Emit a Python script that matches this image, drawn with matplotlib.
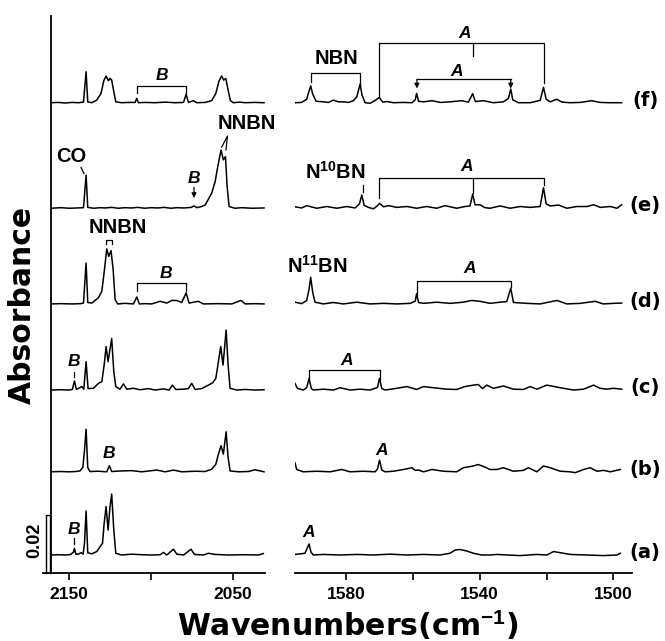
import numpy as np
import matplotlib.pyplot as plt

plt.rcParams['font.family'] = ['Liberation Sans', 'DejaVu Sans']
plt.rcParams['font.weight'] = 'bold'
plt.rcParams['mathtext.fontset'] = 'custom'
plt.rcParams['mathtext.bf'] = 'Liberation Sans:bold'
plt.rcParams['mathtext.rm'] = 'Liberation Sans:bold'

# spectra: wavenumber (cm-1) and absorbance above baseline (mAbs)
# --- 2160-2030 region ---
lo_a_x = [2161, 2157, 2152, 2149, 2147.3, 2146.7, 2145.9, 2144.3, 2142.6, 2141.4, 2140.6, 2139.6, 2138.6, 2136.1,
          2133.1, 2131.1, 2129.6, 2128.6, 2127.4, 2126.2, 2125.0, 2124.0, 2122.7, 2121.5, 2117.9, 2111.8, 2105.7,
          2099.6, 2094.5, 2092.4, 2090.4, 2086.3, 2084.3, 2080.2, 2075.6, 2073.5, 2068.1, 2065.0, 2061.0, 2052.8,
          2042.6, 2034.5, 2031.5]
lo_a_y = [0, 0.1, 0, 0.2, 1.0, 2.3, 0.3, 0.3, 0.8, 0.3, 4.0, 15.2, 0.8, 0.4, 1.2, 2.9, 4.0, 10.9, 16.7, 8.6, 16.7,
          21.0, 8.6, 0.6, 0, 0.3, 0.1, 0, 0.1, 0.9, 0, 2.0, 0.3, 0, 2.0, 0.2, 0, 0.6, 0.2, 0, 0.1, 0, 0.5]

lo_b_x = [2161, 2155, 2150, 2146, 2143.3, 2141.6, 2140.6, 2139.6, 2138.6, 2137.2, 2132.1, 2127.0, 2125.4, 2124.0,
          2117.9, 2111.8, 2105.7, 2096.5, 2091.4, 2086.3, 2081.3, 2073.1, 2067.0, 2063.0, 2060.5, 2058.9, 2057.3,
          2055.9, 2054.2, 2053.0, 2051.8, 2046.7, 2040.6, 2036.6, 2031.1]
lo_b_y = [0, 0.1, 0, 0.1, 0.3, 1.5, 7.2, 14.7, 1.5, 0.1, 0.2, 0, 2.1, 0.1, 0.3, 0.4, 0, 0.6, 0, 0.6, 0, 0.2, 0.1,
          0.9, 2.6, 6.1, 9.0, 6.1, 13.8, 4.9, 0.3, 0, 0.1, 0.7, 0]

lo_c_x = [2161, 2155, 2150, 2148, 2146.7, 2145.5, 2142.2, 2141.0, 2139.6, 2138.4, 2135.1, 2132.1, 2130.0, 2128.6,
          2127.4, 2126.2, 2124.0, 2122.7, 2121.5, 2118.9, 2116.8, 2114.8, 2110.7, 2106.7, 2101.6, 2097.5, 2092.4,
          2089.0, 2087.0, 2084.9, 2080.2, 2077.2, 2075.2, 2073.1, 2069.1, 2065.0, 2062.4, 2060.5, 2058.9, 2057.5,
          2056.1, 2054.2, 2053.0, 2051.8, 2047.7, 2042.6, 2036.6, 2031.1]
lo_c_y = [0, 0.1, 0, 0.2, 3.1, 0.2, 1.2, 0.3, 9.8, 0.5, 0.6, 2.3, 2.9, 8.6, 15.0, 9.8, 17.8, 6.3, 1.2, 0.3, 2.1,
          0.3, 0.6, 0.1, 0.5, 0, 0.4, 0, 1.7, 0.2, 0.3, 0.5, 2.3, 0.2, 0.5, 1.7, 2.5, 4.0, 9.8, 15.0, 8.6, 20.7,
          8.6, 0.6, 0, 0.2, 0, 0.1]

lo_d_x = [2161, 2155, 2148, 2143, 2141.2, 2139.6, 2138.6, 2136.1, 2132.1, 2130.0, 2128.4, 2127.0, 2125.8, 2124.4,
          2123.1, 2121.9, 2120.3, 2115.8, 2110.7, 2108.7, 2107.1, 2103.6, 2099.6, 2094.5, 2090.4, 2087.4, 2084.3,
          2081.3, 2078.6, 2076.8, 2071.1, 2068.1, 2058.9, 2050.8, 2045.1, 2042.6, 2036.6, 2031.1]
lo_d_y = [0, 0.1, 0, 0.1, 0.3, 14.1, 0.5, 0.3, 2.1, 4.4, 11.8, 19.0, 16.4, 18.4, 11.8, 1.5, 0, 0.2, 0, 2.4, 0,
          0.1, 0, 0.9, 0.3, 1.2, 1.2, 0.5, 3.8, 0.3, 0.9, 0, 0.1, 0, 1.2, 0, 0.1, 0]

lo_e_x = [2161, 2155, 2150, 2145, 2141.2, 2139.6, 2138.6, 2135, 2131, 2128, 2124, 2120, 2116, 2112, 2108, 2104, 2100,
          2096, 2092, 2088, 2084, 2080, 2075.5, 2073.7, 2072, 2069.1, 2067.0, 2063.0, 2060.9, 2059.3, 2057.3, 2055.9,
          2054.6, 2053.6, 2052.4, 2048.7, 2044.7, 2038.6, 2031.1]
lo_e_y = [0, 0.2, 0, 0.1, 0.2, 11.4, 0.3, 0, 0.2, 0.1, 0.3, 0, 0.2, 0.1, 0.3, 0, 0.2, 0.1, 0.3, 0, 0.2, 0.1, 0.3,
          0.8, 0.2, 0.6, 1.1, 5.2, 9.2, 14.4, 20.1, 16.7, 17.8, 7.5, 0.6, 0, 0.2, 0, 0.1]

lo_f_x = [2161, 2156.5, 2152.4, 2148.3, 2144.3, 2141.2, 2139.6, 2138.6, 2136.1, 2133.1, 2130.5, 2128.8, 2127.4,
          2126.0, 2125.0, 2124.0, 2122.7, 2121.5, 2117.9, 2113.8, 2109.7, 2108.7, 2107.7, 2103.6, 2097.5, 2091.4,
          2085.3, 2080.2, 2078.6, 2077.2, 2074.2, 2072.1, 2067.0, 2063.0, 2060.5, 2058.5, 2056.9, 2055.7, 2054.4,
          2053.2, 2051.6, 2049.8, 2045.7, 2042.6, 2036.6, 2031.1]
lo_f_y = [0, 0.1, -0.1, 0.1, 0, 0.2, 10.7, 0.3, 0, 0.9, 3.2, 7.6, 9.2, 7.6, 8.4, 7.8, 3.8, 0.3, 0, 0.1, 0.1, 1.5,
          0, 0.1, 0, 0.2, 0, 0.1, 2.9, 0.1, 0.7, 0, 0.1, 0.7, 3.2, 7.6, 9.2, 7.8, 8.4, 4.9, 0.7, 0, 0.2, 0, 0.1, 0]

# --- 1595-1495 region ---
hi_a_x = [1595.3, 1592.3, 1591.6, 1591.1, 1590.5, 1589.8, 1586.8, 1581.8, 1576.8, 1571.8, 1566.8, 1561.8, 1556.8,
          1551.9, 1548.9, 1547.4, 1545.9, 1543.9, 1541.9, 1539.4, 1536.9, 1534.9, 1527.9, 1522.9, 1519.9, 1517.9,
          1515.9, 1512.9, 1507.9, 1502.9, 1498.9, 1497.9]
hi_a_y = [0.2, 0.6, 2.5, 3.8, 1.0, 0, 0.2, 0, 0.2, 0, 0.3, 0, 0.2, 0, 0.6, 1.7, 1.9, 1.4, 0.6, 0, 0, 0.2, -0.2,
          0.2, 0, 1.2, 0.8, 0.2, 0, -0.2, 0, 0.6]

hi_b_x = [1595.3, 1594.8, 1592.8, 1588.8, 1584.8, 1581.3, 1578.8, 1574.8, 1571.3, 1570.6, 1570.0, 1569.3, 1568.3,
          1565.8, 1562.8, 1560.3, 1559.3, 1558.3, 1556.8, 1554.3, 1550.9, 1546.9, 1544.9, 1542.4, 1540.4, 1538.4,
          1536.9, 1534.9, 1532.9, 1529.9, 1526.9, 1525.4, 1522.9, 1520.9, 1518.9, 1515.9, 1512.9, 1511.4, 1508.9,
          1506.9, 1504.9, 1502.9, 1500.9, 1497.9]
hi_b_y = [3.1, 0.8, 0, 0.2, 0, 0.8, 0, 0.2, 0, 1.0, 4.0, 0.6, 0, 0.2, 0.8, 1.4, 0.5, 0.6, 0, 0.8, 0.2, 0, 1.4, 1.9,
          2.5, 1.6, 0.8, 0.8, 1.4, 0.2, 0.5, 1.4, 0, 2.0, 1.4, 0.2, 0, -0.3, 0.8, 1.4, 0.2, 0.5, 0, 0.8]

hi_c_x = [1595.3, 1594.6, 1592.8, 1591.8, 1591.1, 1590.4, 1589.8, 1586.8, 1583.8, 1581.8, 1578.8, 1575.8, 1572.8,
          1570.6, 1570.0, 1569.3, 1568.3, 1564.8, 1561.8, 1558.9, 1556.8, 1553.9, 1549.9, 1546.9, 1544.4, 1541.9,
          1540.4, 1539.2, 1537.9, 1535.9, 1532.9, 1529.9, 1526.9, 1524.9, 1522.9, 1519.9, 1515.9, 1511.9, 1508.9,
          1505.9, 1504.0, 1502.0, 1500.0, 1497.5]
hi_c_y = [2.3, 0.6, 0, 0.8, 4.0, 0.5, 0, 0.3, 0, 0.8, 0, 0.3, 0, 0.9, 4.0, 0.5, 0, 0.6, 1.2, 0.2, 1.2, 0.8, 0.3,
          0.2, 1.2, 1.7, 1.9, 0.5, 1.7, 0.6, 1.4, 0.3, 0.2, 1.2, 0.3, 1.7, 0.8, 0, 0.3, 1.7, 0.6, 0.3, 0.6, 0.3]

hi_d_x = [1595.3, 1593.3, 1591.8, 1591.1, 1590.6, 1590.0, 1589.3, 1586.8, 1583.8, 1580.8, 1576.8, 1572.8, 1568.8,
          1564.8, 1560.8, 1559.3, 1558.9, 1558.3, 1556.8, 1552.9, 1548.9, 1544.9, 1542.4, 1539.9, 1536.9, 1533.9,
          1531.9, 1530.7, 1529.9, 1525.9, 1521.9, 1516.9, 1513.9, 1509.9, 1505.4, 1503.0, 1500.0, 1497.5]
hi_d_y = [0.6, 0.1, 1.2, 5.0, 9.2, 4.0, 0.6, 0, 0.5, 0, 0.6, 0, 0.2, 0, 0.2, 1.0, 3.5, 0.5, 0.2, 0.6, 0.2, 0.6,
          1.2, 0.9, 0.2, 0.6, 0.8, 5.4, 0.5, 0.2, 0, 1.2, 0, 0.2, 0.9, 0, 0.2, 0.3]

hi_e_x = [1595.3, 1593.3, 1591.8, 1588.8, 1585.8, 1582.8, 1579.8, 1577.3, 1576.0, 1575.3, 1574.6, 1573.3, 1571.8,
          1570.6, 1570.0, 1568.8, 1567.3, 1564.8, 1561.8, 1558.9, 1555.9, 1552.9, 1550.4, 1546.9, 1544.4, 1542.9,
          1542.1, 1541.4, 1539.9, 1538.4, 1536.9, 1533.9, 1530.9, 1527.9, 1524.9, 1521.9, 1520.9, 1520.1, 1518.9,
          1516.4, 1513.9, 1510.9, 1507.9, 1505.9, 1503.9, 1500.9, 1498.9, 1497.5]
hi_e_y = [0.5, 0.1, 0.9, 0, 0.6, 0, 0.6, 0.1, 1.5, 4.6, 1.0, 0.3, -0.2, 0.9, 1.7, 0.5, 0.9, 0.3, 0.6, 0, 0.6, 0,
          0.9, 0, 0.6, 0.8, 4.9, 1.2, 1.2, 0.2, 0, 0.8, 0, 0.6, 0.3, 0.6, 7.1, 1.5, 0.8, 1.1, 0, 0.6, 0.6, 1.2, 0.3,
          0.6, 0, 1.2]

hi_f_x = [1595.3, 1593.3, 1591.8, 1591.1, 1590.6, 1590.0, 1589.0, 1586.8, 1585.3, 1583.8, 1582.3, 1580.8, 1579.3,
          1577.8, 1576.8, 1575.8, 1575.2, 1574.3, 1572.8, 1571.3, 1570.1, 1569.0, 1567.8, 1565.8, 1562.8, 1560.3,
          1559.3, 1558.9, 1558.3, 1556.8, 1554.3, 1551.8, 1548.9, 1545.4, 1543.4, 1542.1, 1541.3, 1538.9, 1535.9,
          1532.9, 1531.4, 1530.7, 1530.1, 1528.4, 1524.9, 1521.9, 1520.9, 1520.1, 1518.9, 1516.9, 1515.4, 1512.9,
          1509.9, 1506.5, 1504.0, 1501.0, 1497.5]
hi_f_y = [0, 0.1, 1.2, 4.0, 5.8, 3.0, 0.5, 0.3, 0.1, 0.9, 0.3, 0.3, 0.1, 0.7, 2.0, 6.4, 2.5, 0, -0.2, 0.8, 1.8,
          0.2, 0.4, 0, 0.1, 0, 1.0, 3.2, 0.5, 0.3, 0.7, 0.1, 0.3, 0.7, 0.2, 3.1, 0.4, 0.7, 0, 0.3, 1.5, 4.7, 1.0,
          0, 0, 0.8, 5.3, 1.2, 0.3, 1.2, 0.2, 0, 0.1, 0.7, 0.1, 0, 0]

trace_labels = ['(a)', '(b)', '(c)', '(d)', '(e)', '(f)']
offsets = [0.0062, 0.0349, 0.0631, 0.0928, 0.1258, 0.1622]   # absorbance baseline of each trace
lo_x = [lo_a_x, lo_b_x, lo_c_x, lo_d_x, lo_e_x, lo_f_x]
lo_y = [lo_a_y, lo_b_y, lo_c_y, lo_d_y, lo_e_y, lo_f_y]
hi_x = [hi_a_x, hi_b_x, hi_c_x, hi_d_x, hi_e_x, hi_f_x]
hi_y = [hi_a_y, hi_b_y, hi_c_y, hi_d_y, hi_e_y, hi_f_y]

fig = plt.figure(figsize=(6.65, 6.41), dpi=100)
ax1 = fig.add_axes([0.0767, 0.1061, 0.3218, 0.8689])
ax2 = fig.add_axes([0.4436, 0.1061, 0.5068, 0.8689])

for i in range(6):
    ax1.plot(lo_x[i], offsets[i] + np.array(lo_y[i]) / 1000, color='k', lw=1.1)
    ax2.plot(hi_x[i], offsets[i] + np.array(hi_y[i]) / 1000, color='k', lw=1.1)
    ax2.text(1490.5, offsets[i] + 0.0008, trace_labels[i], ha='center', va='center', fontsize=14,
             family='DejaVu Sans', fontweight='bold', clip_on=False)

ax1.set_xlim(2161, 2030.5)
ax2.set_xlim(1595.3, 1494.4)
for ax in (ax1, ax2):
    ax.set_ylim(0, 0.1921)
    ax.set_yticks([])
    ax.spines['top'].set_visible(False)
    ax.spines['right'].set_visible(False)
    ax.spines['bottom'].set_linewidth(1.3)
    ax.tick_params(axis='x', direction='out', length=5, width=1.2, labelsize=12.5, pad=5)
ax2.spines['left'].set_visible(False)
ax1.spines['left'].set_linewidth(1.3)

ax1.set_xticks([2150, 2100, 2050])
ax1.set_xticklabels(['2150', '', '2050'])
ax2.set_xticks([1580, 1560, 1540, 1520, 1500])
ax2.set_xticklabels(['1580', '', '1540', '', '1500'])
for lab in ax1.get_xticklabels() + ax2.get_xticklabels():
    lab.set_fontweight('bold')

# scale bar 0.02
ax1.plot([2165.9, 2161], [0, 0], color='k', lw=1.3, clip_on=False)
ax1.plot([2164.3, 2164.3, 2161.9, 2161.9], [0, 0.02, 0.02, 0], color='k', lw=1.0, clip_on=False)
ax1.text(2170.7, 0.0112, '0.02', rotation=90, ha='center', va='center', fontsize=13, fontweight='bold')

kw = dict(color='k', lw=0.9, clip_on=False)
ab = dict(ha='center', va='center', fontsize=12.5, fontweight='bold', style='italic')
lb = dict(ha='center', va='center', fontsize=14.5, fontweight='bold')


def bracket(ax, x0, x1, ybar, yl, yr):
    ax.plot([x0, x0, x1, x1], [yl, ybar, ybar, yr], **kw)


def arrow(ax, x, y0, y1):
    ax.annotate('', xy=(x, y1), xytext=(x, y0),
                arrowprops=dict(arrowstyle='-|>', color='k', lw=0.9, mutation_scale=7, shrinkA=0, shrinkB=0))


# left panel annotations
bracket(ax1, 2108.7, 2078.6, 0.1680, 0.1655, 0.1655)
ax1.text(2093.5, 0.1717, 'B', **ab)
ax1.text(2148.4, 0.1436, 'CO', **lb)
ax1.plot([2142.7, 2140.9], [0.1399, 0.1378], **kw)
ax1.text(2073.8, 0.1362, 'B', **ab)
arrow(ax1, 2073.8, 0.1330, 0.1293)
ax1.text(2041.5, 0.1552, 'NNBN', **lb)
ax1.plot([2056.9, 2053.4, 2054.3], [0.1469, 0.1507, 0.1459], **kw)
ax1.text(2120.4, 0.1193, 'NNBN', **lb)
bracket(ax1, 2127.4, 2124.0, 0.1150, 0.1134, 0.1134)
bracket(ax1, 2108.7, 2078.6, 0.0999, 0.0973, 0.0973)
ax1.text(2091.0, 0.1033, 'B', **ab)
ax1.text(2146.8, 0.0729, 'B', **ab)
ax1.plot([2146.7, 2146.7], [0.0694, 0.0677], **kw)
ax1.text(2125.4, 0.0413, 'B', **ab)
ax1.text(2146.8, 0.0151, 'B', **ab)
ax1.plot([2146.7, 2146.7], [0.0120, 0.0100], **kw)

# right panel annotations
ax2.text(1582.8, 0.1776, 'NBN', **lb)
bracket(ax2, 1590.6, 1575.8, 0.1725, 0.1694, 0.1683)
bracket(ax2, 1570.1, 1520.9, 0.1829, 0.1642, 0.1689)
ax2.plot([1541.9, 1541.9], [0.1829, 0.1783], **kw)
ax2.text(1544.4, 0.1861, 'A', **ab)
ax2.plot([1558.8, 1530.7], [0.1703, 0.1703], **kw)
arrow(ax2, 1558.8, 0.1703, 0.1671)
arrow(ax2, 1530.7, 0.1703, 0.1671)
ax2.text(1546.9, 0.1729, 'A', **ab)

ax2.text(1583.1, 0.1383, r'N$^{\mathbf{10}}$BN', **lb)
ax2.plot([1575.0, 1575.0], [0.1338, 0.1315], **kw)
bracket(ax2, 1570.1, 1520.9, 0.1361, 0.1292, 0.1338)
ax2.plot([1541.9, 1541.9], [0.1361, 0.1309], **kw)
ax2.text(1543.9, 0.1401, 'A', **ab)

ax2.text(1588.5, 0.1059, r'N$^{\mathbf{11}}$BN', **lb)
bracket(ax2, 1558.8, 1530.7, 0.1008, 0.0959, 0.0987)
ax2.text(1542.9, 0.1051, 'A', **ab)

bracket(ax2, 1591.1, 1569.8, 0.0700, 0.0666, 0.0666)
ax2.text(1579.8, 0.0734, 'A', **ab)
ax2.text(1569.3, 0.0424, 'A', **ab)
ax2.text(1591.3, 0.0140, 'A', **ab)

fig.text(348 / 665, 1 - 625 / 641, r'Wavenumbers(cm$^{\mathbf{-1}}$)', ha='center', va='center',
         fontsize=21.5, family='DejaVu Sans', fontweight='bold')
fig.text(22 / 665, 1 - 305 / 641, 'Absorbance', rotation=90, ha='center', va='center',
         fontsize=21.5, family='DejaVu Sans', fontweight='bold')

fig.savefig('out.png', dpi=100)
